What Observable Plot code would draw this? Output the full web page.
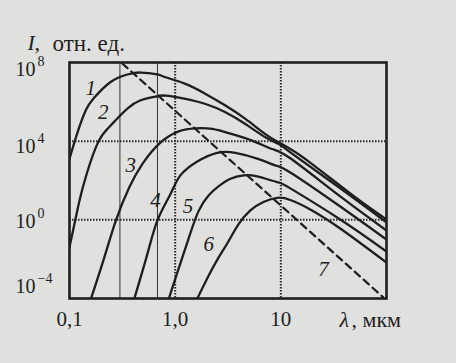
<!DOCTYPE html>
<html><head><meta charset="utf-8">
<script src="https://cdn.jsdelivr.net/npm/d3@7"></script>
<script src="https://cdn.jsdelivr.net/npm/@observablehq/plot@0.6"></script>
<style>
html,body{margin:0;padding:0;background:#e0e0de;}
#chart{width:456px;height:363px;}
</style></head><body><div id="chart"></div>
<script>
// Wavelength (μm) and log10 of intensity for each curve
const lambda1 = [0.100,0.120,0.1426,0.1695,0.245,0.353,0.471,0.678,0.811,1.25,1.94,2.99,4.62,7.14,9.53,12.3,19.5,50.2,100];
const logI1   = [3.11,4.50,5.57,6.18,7.01,7.39,7.49,7.39,7.25,6.91,6.40,5.81,5.13,4.36,3.94,3.60,2.86,1.16,0.02];
const lambda2 = [0.100,0.115,0.134,0.178,0.222,0.264,0.353,0.471,0.630,0.811,1.25,1.94,2.99,4.62,7.14,9.53,12.3,36.5,100];
const logI2   = [-1.39,0.14,1.67,3.70,4.55,4.98,5.66,6.08,6.25,6.32,6.15,5.89,5.47,4.87,4.20,3.86,3.43,1.60,-0.13];
const lambda3 = [0.160,0.214,0.275,0.369,0.492,0.708,1.08,1.56,2.24,3.46,5.35,8.26,12.3,36.5,100];
const logI3   = [-4.0,-1.90,-0.03,1.67,2.86,3.88,4.50,4.65,4.62,4.36,4.03,3.60,3.13,1.19,-0.54];
const lambda4 = [0.411,0.546,0.683,0.906,1.12,1.62,2.50,3.72,6.17,8.87,12.3,36.5,100];
const logI4   = [-4.0,-1.73,0.0,1.33,2.26,2.97,3.41,3.41,3.09,2.77,2.41,0.68,-1.0];
const lambda5 = [0.872,1.08,1.34,1.66,2.07,2.57,3.34,4.46,5.96,9.21,12.3,36.5,100];
const logI5   = [-4.0,-2.47,-0.95,0.43,1.24,1.70,2.09,2.26,2.21,1.92,1.60,0.02,-1.61];
const lambda6 = [1.62,2.01,2.51,3.19,3.97,5.15,6.84,9.27,12.3,19.0,36.5,100];
const logI6   = [-4.0,-2.98,-2.02,-1.10,-0.23,0.48,0.91,1.12,1.01,0.53,-0.44,-2.17];

// Wien displacement locus (dashed)
const wienLambda = [0.316, 92.9];
const wienI = [8.9e7, 1.17e-4];

// curve labels
const labelText   = ["1","2","3","4","5","6","7"];
const labelLambda = [0.159,0.209,0.379,0.653,1.32,2.08,25.4];
const labelI      = [4.8e6,2.8e5,5.9e2,9.8,4.8,0.060,3.2e-3];

// axes
const xTicks = [0.1, 1, 10];
const xTickLabels = ["0,1", "1,0", "10"];
const yTicks = [1e8, 1e4, 1, 1e-4];
const yTickExp = ["8", "4", "0", "\u22124"];
const gridX = [1, 10];
const gridY = [1e4, 1];
const thinX = [0.3, 0.68];

const curveNames = ["1","2","3","4","5","6"];
const lambdas = [lambda1, lambda2, lambda3, lambda4, lambda5, lambda6];
const logIs = [logI1, logI2, logI3, logI4, logI5, logI6];
const rows = [];
curveNames.forEach((n, k) => lambdas[k].forEach((l, i) => rows.push({curve: n, lambda: l, I: Math.pow(10, logIs[k][i])})));
const wienRows = wienLambda.map((l, i) => ({lambda: l, I: wienI[i]}));
const labels = labelText.map((t, i) => ({t, lambda: labelLambda[i], I: labelI[i]}));

const ink = "#1e1e1e";
const serif = "'Liberation Serif','Times New Roman',serif";
const yShift = [7, 5, 2, -12];

const yLabelMarks = yTicks.flatMap((t, i) => [
  Plot.text([t], {x: () => 0.1, y: d => d, text: () => "10", textAnchor: "start", dx: -54, dy: yShift[i], fontSize: 20, fontFamily: serif, fill: ink}),
  Plot.text([t], {x: () => 0.1, y: d => d, text: () => yTickExp[i], textAnchor: "start", dx: -32, dy: yShift[i] - 8, fontSize: 14, fontFamily: serif, fill: ink})
]);

const chart = Plot.plot({
  width: 456, height: 363,
  marginLeft: 69, marginRight: 70, marginTop: 62, marginBottom: 65,
  x: {type: "log", domain: [0.1, 100], axis: null},
  y: {type: "log", domain: [1e-4, 1e8], axis: null},
  style: {background: "#e0e0de", fontFamily: serif},
  marks: [
    Plot.ruleX(thinX, {stroke: "#333", strokeWidth: 1}),
    Plot.ruleX(gridX, {stroke: "#2a2a2a", strokeWidth: 2, strokeDasharray: "1.5,1.5"}),
    Plot.ruleY(gridY, {stroke: "#2a2a2a", strokeWidth: 2, strokeDasharray: "1.5,1.5"}),
    Plot.line(rows, {x: "lambda", y: "I", z: "curve", curve: "natural", stroke: ink, strokeWidth: 2.3, clip: true}),
    Plot.line(wienRows, {x: "lambda", y: "I", stroke: ink, strokeWidth: 2.2, strokeDasharray: "7,5", clip: true}),
    Plot.frame({stroke: ink, strokeWidth: 2.6}),
    Plot.text(labels, {x: "lambda", y: "I", text: "t", fontStyle: "italic", fontSize: 21, fontFamily: serif, fill: ink}),
    ...yLabelMarks,
    Plot.text(xTicks, {x: d => d, y: () => 1e-4, text: (d, i) => xTickLabels[i], dy: 21, fontSize: 21, fontFamily: serif, fill: ink}),
    Plot.text(["\u03bb"], {x: () => 100, y: () => 1e-4, text: d => d, textAnchor: "start", dx: -47, dy: 21, fontSize: 22, fontStyle: "italic", fontFamily: serif, fill: ink}),
    Plot.text([", мкм"], {x: () => 100, y: () => 1e-4, text: d => d, textAnchor: "start", dx: -35, dy: 21, fontSize: 22, fontFamily: serif, fill: ink}),
    Plot.text(["I"], {frameAnchor: "top-left", text: d => d, textAnchor: "start", dx: -42, dy: -28, fontSize: 22, fontStyle: "italic", fontFamily: serif, fill: ink}),
    Plot.text([","], {frameAnchor: "top-left", text: d => d, textAnchor: "start", dx: -35, dy: -28, fontSize: 22, fontFamily: serif, fill: ink}),
    Plot.text(["отн. ед."], {frameAnchor: "top-left", text: d => d, textAnchor: "start", dx: -17, dy: -28, fontSize: 23, fontFamily: serif, fill: ink})
  ]
});
document.getElementById("chart").appendChild(chart);
</script>
</body></html>
